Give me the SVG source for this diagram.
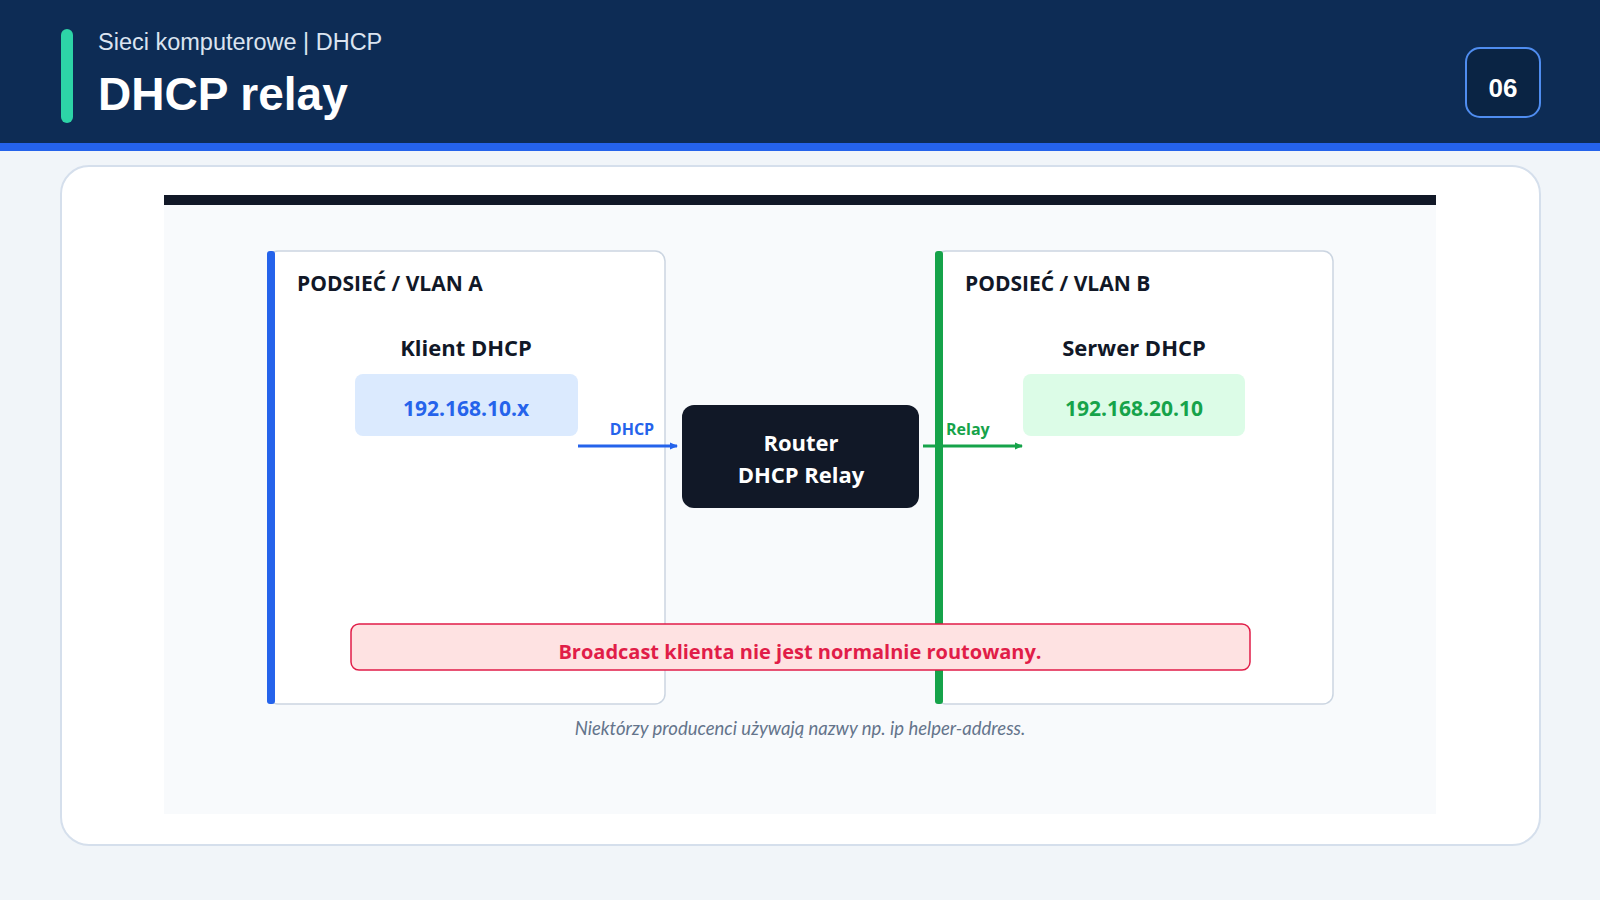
<svg xmlns="http://www.w3.org/2000/svg" width="1600" height="900" viewBox="0 0 1600 900">
<defs>
<style>
.t{font-family:"Open Sans","Noto Sans",sans-serif}
.c{font-family:Lato,"Noto Sans",sans-serif}
.hd{font-family:"Liberation Sans",Arial,sans-serif}
.box{fill:#fff;stroke:#cbd5e1;stroke-width:1.5}
.lbl{font-size:21px;font-weight:700;fill:#111827}
.nm{font-size:22px;font-weight:700;fill:#111827;text-anchor:middle}
.ip{font-size:21px;font-weight:700;text-anchor:middle}
</style>
<marker id="ab" markerWidth="8" markerHeight="8" refX="7" refY="4" orient="auto" markerUnits="userSpaceOnUse"><path d="M0,0.5L8,4L0,7.5z" fill="#2563eb"/></marker>
<marker id="ag" markerWidth="8" markerHeight="8" refX="7" refY="4" orient="auto" markerUnits="userSpaceOnUse"><path d="M0,0.5L8,4L0,7.5z" fill="#16a34a"/></marker>
</defs>
<rect width="1600" height="900" fill="#f1f5f9"/>
<rect width="1600" height="143" fill="#0d2c55"/>
<rect y="143" width="1600" height="8" fill="#2563eb"/>
<rect x="61" y="29" width="12" height="94" rx="6" fill="#2dd4a7"/>
<text class="hd" x="98" y="50" font-size="23.5" fill="#dbe4f0">Sieci komputerowe | DHCP</text>
<text class="hd" x="98" y="110" font-size="46" font-weight="700" fill="#fff">DHCP relay</text>
<g id="page"><rect x="1466" y="48" width="74" height="69" rx="14" fill="#0a2444" stroke="#4f8df0" stroke-width="2"/>
<text class="hd" x="1503" y="97" font-size="26" font-weight="700" fill="#fff" text-anchor="middle">06</text></g>
<rect x="61" y="166" width="1479" height="679" rx="28" fill="#fff" stroke="#d5dfec" stroke-width="2"/>
<rect x="164" y="195" width="1272" height="619" fill="#f8fafc"/>
<rect x="164" y="195" width="1272" height="10" fill="#111827"/>
<g id="vlanA"><rect class="box" x="268" y="251" width="397" height="453" rx="10"/>
<rect x="267" y="251" width="8" height="453" rx="3" fill="#2563eb"/>
<text class="t lbl" x="297" y="291">PODSIEĆ / VLAN A</text></g>
<g id="vlanB"><rect class="box" x="936" y="251" width="397" height="453" rx="10"/>
<rect x="935" y="251" width="8" height="453" rx="3" fill="#16a34a"/>
<text class="t lbl" x="965" y="291">PODSIEĆ / VLAN B</text></g>
<g id="client"><text class="t nm" x="466" y="356">Klient DHCP</text>
<rect x="355" y="374" width="223" height="62" rx="8" fill="#dbeafe"/>
<text class="t ip" x="466" y="416" fill="#2563eb">192.168.10.x</text></g>
<g id="server"><text class="t nm" x="1134" y="356">Serwer DHCP</text>
<rect x="1023" y="374" width="222" height="62" rx="8" fill="#dcfce7"/>
<text class="t ip" x="1134" y="416" fill="#16a34a">192.168.20.10</text></g>
<g id="router"><rect x="682" y="405" width="237" height="103" rx="12" fill="#111827"/>
<text class="t" x="801" y="451" font-size="22" font-weight="700" fill="#fff" text-anchor="middle">Router</text>
<text class="t" x="801" y="483" font-size="22" font-weight="700" fill="#fff" text-anchor="middle">DHCP Relay</text></g>
<g id="connectors">
<line x1="578" y1="446" x2="677" y2="446" stroke="#2563eb" stroke-width="3" marker-end="url(#ab)"/>
<text class="t" x="632" y="435" font-size="16" font-weight="700" fill="#2563eb" text-anchor="middle">DHCP</text>
<line x1="923" y1="446" x2="1022" y2="446" stroke="#16a34a" stroke-width="3" marker-end="url(#ag)"/>
<text class="t" x="946" y="435" font-size="16" font-weight="700" fill="#16a34a">Relay</text>
</g>
<g id="note"><rect x="351" y="624" width="899" height="46" rx="8" fill="#fee2e2" stroke="#e11d48" stroke-width="1.5"/>
<text class="t" x="800" y="659" font-size="20" font-weight="700" fill="#e11d48" text-anchor="middle">Broadcast klienta nie jest normalnie routowany.</text></g>
<text class="c" x="800" y="735" font-size="18.5" font-style="italic" fill="#64748b" text-anchor="middle">Niektórzy producenci używają nazwy np. ip helper-address.</text>
</svg>
